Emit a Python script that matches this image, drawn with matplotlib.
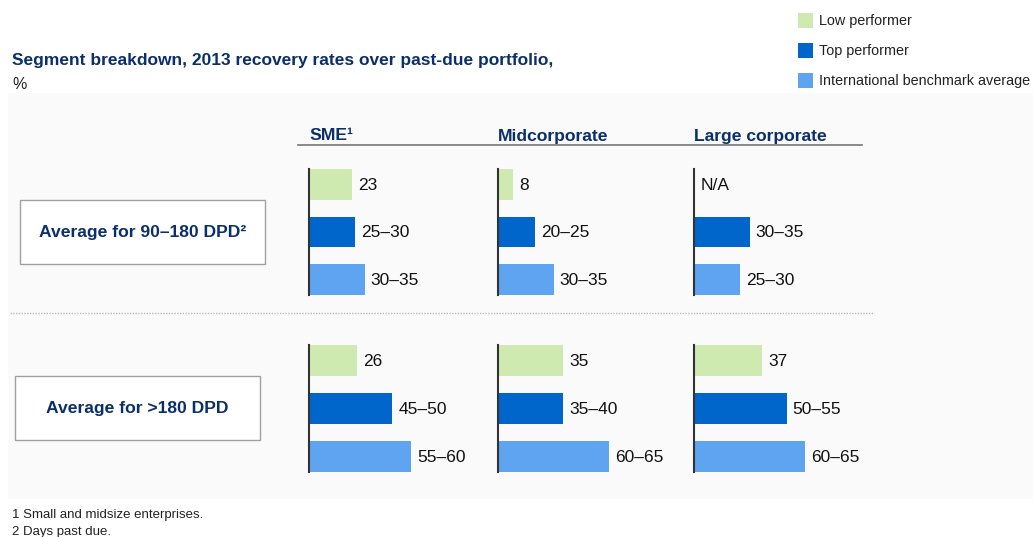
import numpy as np
import matplotlib
matplotlib.use("Agg")
import matplotlib.pyplot as plt
from matplotlib.patches import Rectangle
from matplotlib.lines import Line2D

plt.rcParams['font.family'] = ['Liberation Sans', 'DejaVu Sans']

# data (range bars drawn at their lower bound)
segments = ['SME\u00b9', 'Midcorporate', 'Large corporate']
row_names = ['Average for 90\u2013180 DPD\u00b2', 'Average for >180 DPD']
series = ['Low performer', 'Top performer', 'International benchmark average']

low_90 = [23, 8, np.nan]
top_90_lo = [25, 20, 30]
top_90_hi = [30, 25, 35]
bench_90_lo = [30, 30, 25]
bench_90_hi = [35, 35, 30]

low_180 = [26, 35, 37]
top_180_lo = [45, 35, 50]
top_180_hi = [50, 40, 55]
bench_180_lo = [55, 60, 60]
bench_180_hi = [60, 65, 65]

colors = ['#cfeab0', '#0066cc', '#5fa4f0']
navy = '#0b2f6b'

W, H = 1033, 537
fig = plt.figure(figsize=(W / 100, H / 100), dpi=100)


def fx(x):
    return x / W


def fy(y):
    return 1 - y / H


# grey panel
fig.patches.append(Rectangle((fx(8), fy(499)), fx(1033) - fx(8), fy(93) - fy(499),
                             transform=fig.transFigure, facecolor='#fafafa',
                             edgecolor='none', zorder=-5))

# title
fig.text(fx(12), fy(61), 'Segment breakdown, 2013 recovery rates over past-due portfolio,',
         fontsize=12.5, fontweight='bold', color=navy, va='center')
fig.text(fx(12), fy(84), '%', fontsize=11.5, color='#222222', va='center')

# legend
for i, (name, c) in enumerate(zip(series, colors)):
    yc = 20.5 + 30 * i
    fig.patches.append(Rectangle((fx(798), fy(yc + 7.5)), fx(15), 15 / H,
                                 transform=fig.transFigure, facecolor=c,
                                 edgecolor='none'))
    fig.text(fx(819), fy(yc + 1), name, fontsize=10.4, color='#222222', va='center')

# column headers
col_x = [309, 498, 694]
for seg, x in zip(segments, col_x):
    fig.text(fx(x), fy(136), seg, fontsize=12.6, fontweight='bold', color=navy, va='center')
fig.add_artist(Line2D([fx(298), fx(862)], [fy(145), fy(145)], color='#777777', lw=1.2))

# separator
fig.add_artist(Line2D([fx(10), fx(874)], [fy(313), fy(313)], color='#bbbbbb', lw=1,
                      linestyle=(0, (1, 1))))

# row boxes
boxes = [(20, 200, 265, 264), (15, 376, 260, 440)]
for name, (x0, y0, x1, y1) in zip(row_names, boxes):
    fig.patches.append(Rectangle((fx(x0), fy(y1)), fx(x1 - x0), (y1 - y0) / H,
                                 transform=fig.transFigure, facecolor='white',
                                 edgecolor='#a0a0a0', lw=1, zorder=-4))
    fig.text(fx((x0 + x1) / 2), fy((y0 + y1) / 2 + 1), name, fontsize=12.6,
             fontweight='bold', color=navy, ha='center', va='center')

# bars
rows = [
    (low_90, top_90_lo, top_90_hi, bench_90_lo, bench_90_hi, 169, 295),
    (low_180, top_180_lo, top_180_hi, bench_180_lo, bench_180_hi, 345, 472),
]
px_per_unit = 1.85
ax_w = 170
for low, tlo, thi, blo, bhi, ytop, ybot in rows:
    for j, x in enumerate(col_x):
        ax = fig.add_axes([fx(x), fy(ybot), fx(ax_w), (ybot - ytop) / H], zorder=5)
        ax.set_xlim(0, ax_w / px_per_unit)
        ax.set_ylim(2.325, -0.325)
        ax.patch.set_visible(False)
        vals = [low[j], tlo[j], blo[j]]
        labels = ['N/A' if np.isnan(low[j]) else f'{low[j]:.0f}',
                  f'{tlo[j]}\u2013{thi[j]}', f'{blo[j]}\u2013{bhi[j]}']
        bar_vals = [0 if np.isnan(v) else v for v in vals]
        ax.barh([0, 1, 2], bar_vals, height=0.65, color=colors)
        for k, (v, lab) in enumerate(zip(bar_vals, labels)):
            ax.annotate(lab, (v, k), xytext=(4.5, -0.5), textcoords='offset points',
                        va='center', ha='left', fontsize=12.5, color='#111111',
                        annotation_clip=False)
        for s in ['top', 'right', 'bottom']:
            ax.spines[s].set_visible(False)
        ax.spines['left'].set_color('#333333')
        ax.spines['left'].set_linewidth(1.5)
        ax.set_xticks([])
        ax.set_yticks([])

# footnotes
fig.text(fx(12), fy(515), '1 Small and midsize enterprises.', fontsize=9.5, color='#222222', va='center')
fig.text(fx(12), fy(532), '2 Days past due.', fontsize=9.5, color='#222222', va='center')

fig.savefig('out.png', dpi=100)
